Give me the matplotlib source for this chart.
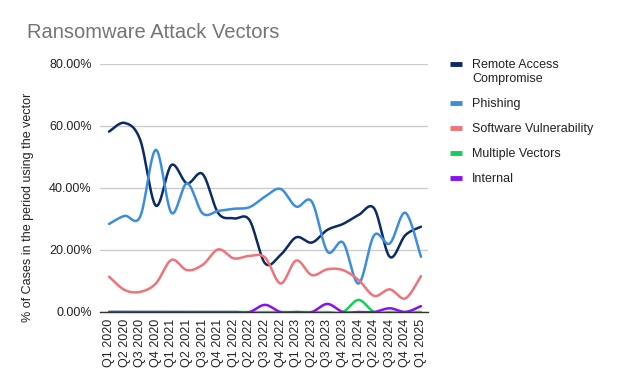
import numpy as np
import matplotlib
matplotlib.use("Agg")
import matplotlib.pyplot as plt
from matplotlib.ticker import FuncFormatter
from matplotlib.lines import Line2D

plt.rcParams['font.family'] = ['Liberation Sans', 'DejaVu Sans']

quarters = ["Q1 2020", "Q2 2020", "Q3 2020", "Q4 2020", "Q1 2021", "Q2 2021", "Q3 2021",
            "Q4 2021", "Q1 2022", "Q2 2022", "Q3 2022", "Q4 2022", "Q1 2023", "Q2 2023",
            "Q3 2023", "Q4 2023", "Q1 2024", "Q2 2024", "Q3 2024", "Q4 2024", "Q1 2025"]

remote_access = [58.2, 61.0, 55.5, 34.3, 47.4, 41.5, 44.5, 31.9, 30.2, 29.7, 15.7, 18.4,
                 24.1, 22.4, 26.5, 28.4, 31.3, 33.4, 17.8, 24.8, 27.5]
phishing = [28.4, 31.0, 30.8, 52.3, 32.0, 41.5, 31.8, 32.6, 33.3, 33.8, 37.2, 39.7,
            34.0, 35.6, 19.5, 22.4, 9.2, 24.8, 22.1, 32.0, 17.8]
software_vuln = [11.4, 7.1, 6.5, 9.2, 16.8, 13.5, 15.2, 20.2, 17.3, 18.1, 17.6, 9.2,
                 16.6, 11.9, 13.8, 13.5, 10.3, 5.2, 7.3, 4.4, 11.6]
multiple_vectors = [0, 0, 0, 0, 0, 0, 0, 0, 0, 0, 0, 0,
                    0, 0, 0, 0, 3.9, 0, 0, 0, 0]
internal = [0, 0, 0, 0, 0, 0, 0, 0, 0, 0, 2.3, 0,
            0, 0, 2.6, 0, 0, 0, 1.2, 0, 1.9]

series_names = ["Remote Access\nCompromise", "Phishing", "Software Vulnerability",
                "Multiple Vectors", "Internal"]
series_values = [remote_access, phishing, software_vuln, multiple_vectors, internal]
colors = ["#0b2a66", "#3b8ede", "#f07378", "#13cf5a", "#8a0ff2"]

yticks = [0, 20, 40, 60, 80]


def smooth(x, y, n=24, t=1/6):
    x = np.asarray(x, float)
    y = np.asarray(y, float)
    xs, ys = [], []
    m = len(x)
    for i in range(m - 1):
        p0 = (x[i], y[i])
        p3 = (x[i + 1], y[i + 1])
        pm = (x[i - 1], y[i - 1]) if i > 0 else p0
        pp = (x[i + 2], y[i + 2]) if i + 2 < m else p3
        c1 = (p0[0] + (p3[0] - pm[0]) * t, p0[1] + (p3[1] - pm[1]) * t)
        c2 = (p3[0] - (pp[0] - p0[0]) * t, p3[1] - (pp[1] - p0[1]) * t)
        s = np.linspace(0, 1, n, endpoint=(i == m - 2))
        b0 = (1 - s) ** 3
        b1 = 3 * (1 - s) ** 2 * s
        b2 = 3 * (1 - s) * s ** 2
        b3 = s ** 3
        xs.append(b0 * p0[0] + b1 * c1[0] + b2 * c2[0] + b3 * p3[0])
        ys.append(b0 * p0[1] + b1 * c1[1] + b2 * c2[1] + b3 * p3[1])
    return np.concatenate(xs), np.concatenate(ys)


W, H = 624, 385
fig = plt.figure(figsize=(W / 100, H / 100), dpi=100)
ax = fig.add_axes([100 / W, 1 - 312 / H, 328 / W, 248 / H])

x = np.arange(len(quarters))
for name, vals, c in zip(series_names, series_values, colors):
    xs, ys = smooth(x, vals)
    ax.plot(xs, ys, color=c, lw=1.8, solid_capstyle='round', zorder=3)

ax.set_xlim(-0.58, 20.45)
ax.set_ylim(0, 80)
ax.set_yticks(yticks)
ax.yaxis.set_major_formatter(FuncFormatter(lambda v, p: f"{v:.2f}%"))
ax.grid(axis='y', color='#cccccc', lw=1)
ax.set_axisbelow(True)
for s in ['top', 'right', 'left']:
    ax.spines[s].set_visible(False)
ax.spines['bottom'].set_color('#333333')
ax.spines['bottom'].set_linewidth(1.0)
ax.spines['bottom'].set_zorder(2)
ax.tick_params(axis='y', length=0, pad=6, labelsize=9, labelcolor='#222222')
ax.set_xticks(x)
ax.set_xticklabels(quarters, rotation=90, fontsize=9, color='#222222')
ax.tick_params(axis='x', length=0, pad=5)

fig.text(28 / W, 1 - 207 / H, "% of Cases in the period using the vector",
         rotation=90, ha='center', va='center', fontsize=9, color='#222222')
fig.text(27 / W, 1 - 33 / H, "Ransomware Attack Vectors", fontsize=14.5,
         color='#757575', ha='left', va='center')

# legend drawn manually to match layout (marker aligned with first text line)
leg_y = [64, 103, 128, 153, 178]
for name, c, yy in zip(series_names, colors, leg_y):
    fy = 1 - yy / H
    fig.add_artist(Line2D([450 / W, 462 / W], [fy, fy], color=c, lw=3.5,
                          solid_capstyle='butt', transform=fig.transFigure))
    fig.text(472 / W, 1 - (yy - 5) / H, name, fontsize=9, color='#222222',
             ha='left', va='top', linespacing=1.25)

fig.savefig("out.png", dpi=100)
